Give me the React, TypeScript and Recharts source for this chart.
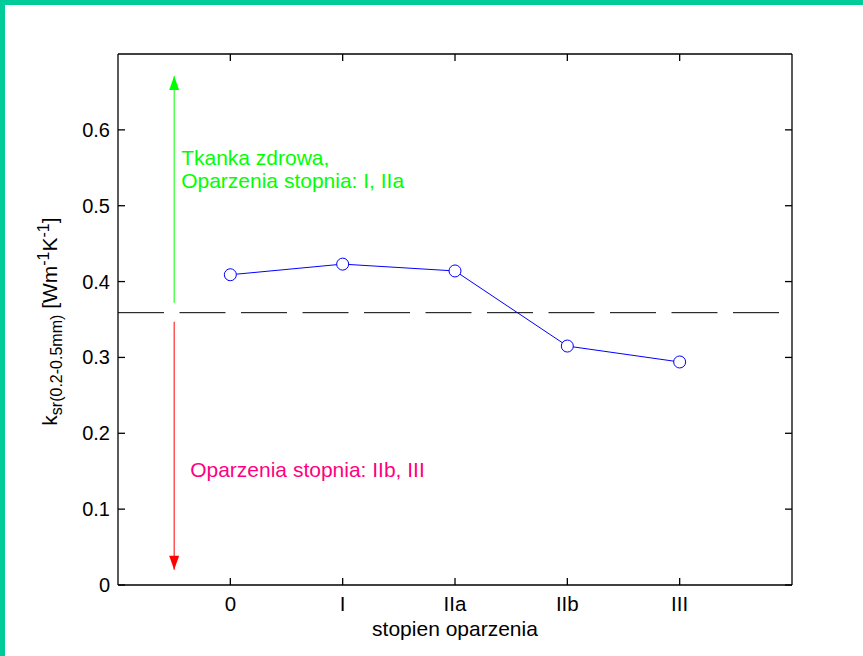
import {
  ComposedChart,
  Line,
  XAxis,
  YAxis,
  ReferenceLine,
  ReferenceDot,
} from "recharts";

const stages = ["0", "I", "IIa", "IIb", "III"];
const stageIndex = [0, 1, 2, 3, 4];
const conductivity = [0.409, 0.423, 0.414, 0.315, 0.294];
const yTicks = [0, 0.1, 0.2, 0.3, 0.4, 0.5, 0.6];
const threshold = 0.359;
const arrowX = -0.5;
const healthyArrow = [0.372, 0.671];
const burnArrow = [0.347, 0.02];
const healthyText = ["Tkanka zdrowa,", "Oparzenia stopnia: I,  IIa"];
const healthyTextY = 0.554;
const burnText = "Oparzenia stopnia: IIb, III";
const burnTextY = 0.142;

const data = stageIndex.map((x, i) => ({ x, k: conductivity[i] }));
const healthyData = healthyArrow.map((y) => ({ x: arrowX, y }));
const burnData = burnArrow.map((y) => ({ x: arrowX, y }));

const FONT = "'Liberation Sans', Arial, sans-serif";
const TICK = 7;

const BottomTick = ({ x, y, payload }: any) => (
  <g>
    <line x1={x} y1={y} x2={x} y2={y - TICK} stroke="#000" strokeWidth={1.3} />
    <text x={x} y={y + 26} textAnchor="middle" fontSize={20.5} fontFamily={FONT} fill="#000">
      {stages[payload.value]}
    </text>
  </g>
);

const TopTick = ({ x, y }: any) => (
  <line x1={x} y1={y} x2={x} y2={y + TICK} stroke="#000" strokeWidth={1.3} />
);

const LeftTick = ({ x, y, payload }: any) => (
  <g>
    <line x1={x} y1={y} x2={x + TICK} y2={y} stroke="#000" strokeWidth={1.3} />
    <text x={x - 8} y={y + 7} textAnchor="end" fontSize={20} fontFamily={FONT} fill="#000">
      {payload.value === 0 ? "0" : payload.value.toFixed(1)}
    </text>
  </g>
);

const RightTick = ({ x, y }: any) => (
  <line x1={x} y1={y} x2={x - TICK} y2={y} stroke="#000" strokeWidth={1.3} />
);

const XLabel = ({ viewBox }: any) => (
  <text
    x={viewBox.x + viewBox.width / 2}
    y={viewBox.y + 51}
    textAnchor="middle"
    fontSize={21}
    fontFamily={FONT}
    fill="#000"
  >
    stopien oparzenia
  </text>
);

const YLabel = ({ viewBox }: any) => {
  const cx = viewBox.x + viewBox.width - 61;
  const cy = viewBox.y + viewBox.height / 2 + 2;
  return (
    <text
      transform={`translate(${cx},${cy}) rotate(-90)`}
      textAnchor="middle"
      fontSize={21}
      fontFamily={FONT}
      fill="#000"
    >
      <tspan>k</tspan>
      <tspan fontSize={16} dy={5}>sr(0.2-0.5mm)</tspan>
      <tspan dy={-5}> [Wm</tspan>
      <tspan fontSize={16} dy={-8}>-1</tspan>
      <tspan dy={8}>K</tspan>
      <tspan fontSize={16} dy={-8}>-1</tspan>
      <tspan dy={8}>]</tspan>
    </text>
  );
};

const Annot = ({ viewBox, lines, color, dx }: any) => (
  <text x={viewBox.x + dx} y={viewBox.y} fontSize={21} fontFamily={FONT} fill={color}>
    {lines.map((t: string, i: number) => (
      <tspan key={i} x={viewBox.x + dx} dy={i === 0 ? 0 : 23}>
        {t}
      </tspan>
    ))}
  </text>
);

const arrowHead = (dir: number, color: string) => (props: any) => {
  const { cx, cy, index } = props;
  if (index !== 1) return <g key={`n${index}`} />;
  return (
    <polygon
      key={`h${index}`}
      points={`${cx},${cy} ${cx - 5},${cy + dir * 14} ${cx + 5},${cy + dir * 14}`}
      fill={color}
    />
  );
};

const axisLine = { stroke: "#000", strokeWidth: 1.3 };

export default function App() {
  return (
    <div
      style={{
        position: "absolute",
        left: 0,
        top: 0,
        width: 863,
        height: 656,
        background: "#fff",
      }}
    >
      <div style={{ position: "absolute", left: 0, top: 0, width: 863, height: 5, background: "#00cc99" }} />
      <div style={{ position: "absolute", left: 0, top: 0, width: 5, height: 656, background: "#00cc99" }} />
      <ComposedChart
        width={863}
        height={656}
        data={data}
        margin={{ top: 53, right: 70, bottom: 70, left: 117 }}
      >
        <XAxis
          dataKey="x"
          type="number"
          domain={[-1, 5]}
          ticks={stageIndex}
          allowDataOverflow
          height={1}
          tickSize={0}
          tickMargin={0}
          axisLine={axisLine}
          tickLine={false}
          tick={<BottomTick />}
          label={<XLabel />}
        />
        <XAxis
          xAxisId="top"
          orientation="top"
          dataKey="x"
          type="number"
          domain={[-1, 5]}
          ticks={stageIndex}
          allowDataOverflow
          height={1}
          tickSize={0}
          tickMargin={0}
          axisLine={axisLine}
          tickLine={false}
          tick={<TopTick />}
        />
        <YAxis
          type="number"
          domain={[0, 0.7]}
          ticks={yTicks}
          allowDataOverflow
          width={1}
          tickSize={0}
          tickMargin={0}
          axisLine={axisLine}
          tickLine={false}
          tick={<LeftTick />}
          label={<YLabel />}
        />
        <YAxis
          yAxisId="right"
          orientation="right"
          type="number"
          domain={[0, 0.7]}
          ticks={yTicks}
          allowDataOverflow
          width={1}
          tickSize={0}
          tickMargin={0}
          axisLine={axisLine}
          tickLine={false}
          tick={<RightTick />}
        />
        <ReferenceLine
          y={threshold}
          stroke="#000"
          strokeWidth={1}
          strokeDasharray="46 15.5"
        />
        <Line
          data={healthyData}
          dataKey="y"
          stroke="#00ff00"
          strokeWidth={1}
          dot={arrowHead(1, "#00ff00")}
          activeDot={false}
          isAnimationActive={false}
        />
        <Line
          data={burnData}
          dataKey="y"
          stroke="#ff0000"
          strokeWidth={1}
          dot={arrowHead(-1, "#ff0000")}
          activeDot={false}
          isAnimationActive={false}
        />
        <Line
          dataKey="k"
          stroke="#0000ff"
          strokeWidth={1}
          dot={{ r: 6, fill: "#fff", stroke: "#0000ff", strokeWidth: 1 }}
          activeDot={false}
          isAnimationActive={false}
        />
        <ReferenceDot
          x={arrowX}
          y={healthyTextY}
          r={0}
          stroke="none"
          label={<Annot lines={healthyText} color="#00ff00" dx={7} />}
        />
        <ReferenceDot
          x={arrowX}
          y={burnTextY}
          r={0}
          stroke="none"
          label={<Annot lines={[burnText]} color="#ff0080" dx={16} />}
        />
      </ComposedChart>
    </div>
  );
}
